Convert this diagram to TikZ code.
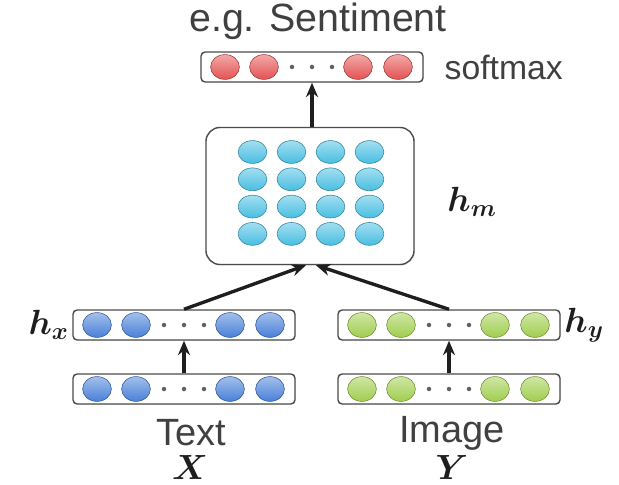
\documentclass[tikz,border=0pt]{standalone}
\usepackage{fontspec}
\setmainfont{Liberation Sans}
\usepackage{amsmath,bm}
\usetikzlibrary{arrows.meta,positioning,shapes.geometric,shadows}
\definecolor{rose}{RGB}{228,82,82}
\definecolor{sky}{RGB}{72,128,215}
\definecolor{aqua}{RGB}{72,190,225}
\definecolor{lime}{RGB}{160,206,78}
\definecolor{ink}{RGB}{30,30,30}
\tikzset{
  >={Stealth[length=3.6mm,width=3mm]},
  layer/.style={draw=ink!80,fill=white,rounded corners=3pt,line width=1pt,
    minimum width=5.55cm,minimum height=0.75cm,
    drop shadow={opacity=0.15,shadow xshift=0.6pt,shadow yshift=-0.6pt}},
  fused/.style={draw=ink!80,fill=white,rounded corners=10pt,line width=1pt,
    minimum width=5.2cm,minimum height=3.425cm,
    drop shadow={opacity=0.15,shadow xshift=0.8pt,shadow yshift=-0.8pt}},
  unit/.style={ellipse,inner sep=0pt,minimum width=0.72cm,minimum height=0.62cm,
    draw=#1!70!black,top color=#1!50!white,bottom color=#1,line width=0.4pt},
  unit/.default=sky,
  flow/.style={->,line width=2.4pt,draw=ink},
  lbl/.style={font=\fontsize{27}{30}\selectfont,text=ink!85},
  var/.style={font=\fontsize{24}{28}\selectfont,text=ink,inner sep=1pt},
}

\begin{document}
\begin{tikzpicture}[x=0.025cm,y=-0.025cm]
  \useasboundingbox (0,0) rectangle (619,485);
  % vector layers
  \foreach \n/\cx/\cy/\c in {soft/312/67/rose, hx/184/325/sky, x/184/389/sky,
                             hy/449/325/lime, y/449/389/lime}
  {
    \node[layer] (\n) at (\cx,\cy) {};
    \foreach \dx [count=\k] in {-87,-48,46,86}
      \node[unit=\c] (\n-\k) at (\cx+\dx,\cy) {};
    \foreach \dx in {-20,0,20}
      \fill[ink!70] (\cx+\dx,\cy) circle (1.6pt);
  }
  % fused representation
  \node[fused] (hm) at (310,196) {};
  \foreach \i in {0,...,3}
    \foreach \j in {0,...,3}
      \node[unit=aqua,minimum height=0.57cm] (hm-\i\j) at (252.5+39*\i,152+27.3*\j) {};
  % connectors
  \draw[flow] (soft.south |- hm.north) -- (soft.south);
  \draw[flow] (hx.north) -- ([xshift=-0.1cm]hm.south);
  \draw[flow] (hy.north) -- ([xshift=0.15cm]hm.south);
  \draw[flow] (x.north) -- (hx.south);
  \draw[flow] (y.north) -- (hy.south);
  % labels
  \node[lbl,font=\fontsize{28}{32}\selectfont] (task) at (318,21) {e.g. Sentiment};
  \node[lbl,font=\fontsize{24}{28}\selectfont,right=4mm of soft] (smax) {softmax};
  \node[var] (lhm) at (472,202) {$\bm{h}_{\bm{m}}$};
  \node[var,left=0.5mm of hx] (lhx) {$\bm{h}_{\bm{x}}$};
  \node[var,right=0.5mm of hy] (lhy) {$\bm{h}_{\bm{y}}$};
  \node[lbl] (ltext) at (191,433) {Text};
  \node[var] (lx) at (190,467) {$\bm{X}$};
  \node[lbl] (limage) at (452,433) {Image};
  \node[var] (ly) at (452,467) {$\bm{Y}$};
\end{tikzpicture}
\end{document}
